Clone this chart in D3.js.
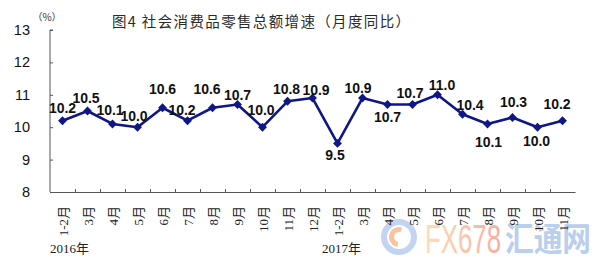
<!DOCTYPE html>
<html><head><meta charset="utf-8">
<script src="https://cdn.jsdelivr.net/npm/d3@7"></script>
<style>body{margin:0;background:#fff}svg{display:block}</style>
</head><body><svg id="c" width="606" height="273"></svg>
<script>
const categories = ["1-2月","3月","4月","5月","6月","7月","8月","9月","10月","11月","12月",
                    "1-2月","3月","4月","5月","6月","7月","8月","9月","10月","11月"];
const values = [10.2,10.5,10.1,10.0,10.6,10.2,10.6,10.7,10.0,10.8,10.9,
                9.5,10.9,10.7,10.7,11.0,10.4,10.1,10.3,10.0,10.2];
const yTicks = [8,9,10,11,12,13];
const years = [{label:"2016年", start:0},{label:"2017年", start:11}];
const title = "图4 社会消费品零售总额增速（月度同比）";
const unit = "（%）";
// label nudges relative to each point (layout only): [dx, dy of label centre]
const labelNudge = [[0,-12.5],[-1.5,-13],[-2.5,-13.5],[-3.5,-11],[0,-19],[-5.5,-10.5],[-5.5,-19],[0,-9.5],
  [-1.5,-17],[-1,-12],[3.5,-8.5],[-2.5,12],[-4.5,-10],[0,12.5],[-2.5,-11.5],[4.5,-10],[7.5,-9],
  [1,18],[1,-15.5],[-1,14],[-5.5,-16.5]];

const svg = d3.select("#c");
const L = 50, R = 575, T = 30, B = 192;
const x = d3.scaleBand().domain(d3.range(categories.length)).range([L, R]);
const y = d3.scaleLinear().domain([8, 13]).range([B, T]);
const cx = i => x(i) + x.bandwidth() / 2;
const axisColor = "#555";

// watermark logo (bottom right)
const defs = svg.append("defs");
const g1 = defs.append("linearGradient").attr("id","wm").attr("x1","0").attr("x2","1");
g1.append("stop").attr("offset","0").attr("stop-color","#fcd9aa");
g1.append("stop").attr("offset","1").attr("stop-color","#f5a08e");
const wm = svg.append("g").attr("opacity", 0.85);
wm.append("circle").attr("cx", 399).attr("cy", 237).attr("r", 15)
  .attr("fill","none").attr("stroke","#b9cdef").attr("stroke-width", 6);
wm.append("path").attr("d", d3.arc()({innerRadius:5, outerRadius:10, startAngle:3.3, endAngle:6.6}))
  .attr("transform","translate(399,237)").attr("fill","#f7b98f");
wm.append("text").attr("x", 425).attr("y", 253).attr("font-family","Liberation Sans, sans-serif")
  .attr("font-size", 40).attr("textLength", 76).attr("lengthAdjust","spacingAndGlyphs")
  .attr("fill","url(#wm)").text("FX678");
wm.append("text").attr("x", 505).attr("y", 251).attr("font-family","Noto Sans CJK SC, sans-serif")
  .attr("font-size", 33).attr("font-weight", 700).attr("textLength", 86).attr("lengthAdjust","spacingAndGlyphs")
  .attr("fill","#afc6ea").text("汇通网");

// title
svg.append("text").attr("x", 112).attr("y", 27)
  .attr("font-family","Noto Sans CJK SC, sans-serif").attr("font-size", 14.5)
  .attr("textLength", 298).attr("lengthAdjust","spacing")
  .attr("fill","#2a2a2a").text(title);
svg.append("text").attr("x", 47).attr("y", 21).attr("text-anchor","middle")
  .attr("font-family","Noto Sans CJK SC, sans-serif").attr("font-size", 10)
  .attr("fill","#333").text(unit);

// y axis
const yAxis = svg.append("g").attr("transform", `translate(${L},0)`)
  .call(d3.axisRight(y).tickValues(yTicks).tickSize(3).tickFormat(""));
yAxis.select(".domain").attr("stroke", axisColor).attr("d", `M3,${T}H0V${B}`);
yAxis.selectAll("line").attr("stroke", axisColor);
svg.append("g").selectAll("text").data(yTicks).join("text")
  .attr("x", 30).attr("y", d => y(d) + 5).attr("text-anchor","end")
  .attr("font-family","Liberation Sans, Arial, sans-serif").attr("font-size", 14.5)
  .attr("fill","#111").text(d => d);

// x axis
const xb = d3.scaleLinear().domain([0, categories.length]).range([L, R]);
const xAxis = svg.append("g").attr("transform", `translate(0,${B})`)
  .call(d3.axisTop(xb).tickValues(d3.range(1, categories.length)).tickSize(3).tickFormat("").tickSizeOuter(0));
xAxis.select(".domain").attr("stroke", axisColor);
xAxis.selectAll("line").attr("stroke", axisColor);
svg.append("g").selectAll("text").data(categories).join("text")
  .attr("transform", (d, i) => `translate(${cx(i) + 1},206) rotate(-90)`)
  .attr("text-anchor","end").attr("dominant-baseline","central")
  .attr("font-family","Liberation Serif, Noto Sans CJK SC, serif").attr("font-size", 13)
  .attr("fill","#222").text(d => d);
svg.append("g").selectAll("text").data(years).join("text")
  .attr("x", d => x(d.start) - (d.start ? 3 : 0)).attr("y", 253)
  .attr("font-family","Liberation Serif, Noto Sans CJK SC, serif").attr("font-size", 13)
  .attr("fill","#222").text(d => d.label);

// line
const color = "#0f1687";
svg.append("path").datum(values)
  .attr("d", d3.line().x((d, i) => cx(i)).y(d => y(d)))
  .attr("fill","none").attr("stroke", color).attr("stroke-width", 2.6).attr("stroke-linejoin","round");
svg.append("g").selectAll("path").data(values).join("path")
  .attr("d", d3.symbol(d3.symbolDiamond2, 50))
  .attr("transform", (d, i) => `translate(${cx(i)},${y(d)})`)
  .attr("fill", color);

// labels
svg.append("g").selectAll("text").data(values).join("text")
  .attr("x", (d, i) => cx(i) + labelNudge[i][0])
  .attr("y", (d, i) => y(d) + labelNudge[i][1] + 5)
  .attr("text-anchor","middle")
  .attr("font-family","Liberation Sans, Arial, sans-serif").attr("font-size", 14).attr("font-weight", 700)
  .attr("fill","#111").text(d => d.toFixed(1));
</script></body></html>
